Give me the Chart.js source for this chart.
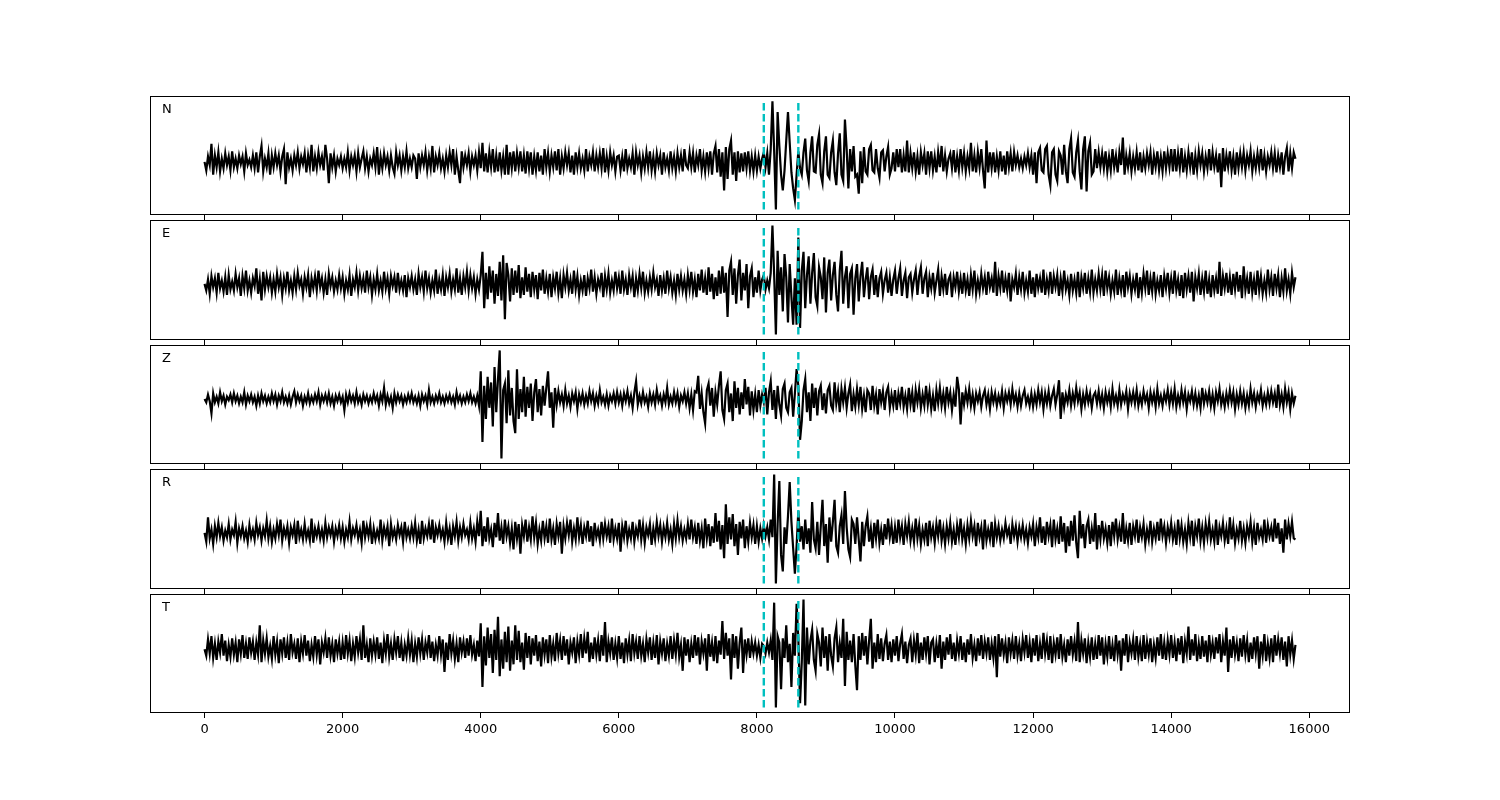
<!DOCTYPE html>
<html>
<head>
<meta charset="utf-8">
<script src="https://cdn.jsdelivr.net/npm/chart.js@4.4.1/dist/chart.umd.min.js"></script>
<style>
  body { margin: 0; background: #fff; }
  #fig { position: relative; width: 1500px; height: 800px; }
  #fig canvas { position: absolute; left: 0; }
</style>
</head>
<body>
<div id="fig"></div>
<script>
// samples every 25 time units, starting at 0
const sampleStep = 25;
const componentLabels = ['N', 'E', 'Z', 'R', 'T'];
const xTickValues = [0, 2000, 4000, 6000, 8000, 10000, 12000, 14000, 16000];
const pickTimes = [8100, 8600];

const traceN = [
  0, -8, 5, -3, 17, -12, 6, -5, 9, -9, 3, -6, 8, -3, 5, -8, 10, -5, 3, -6, 6, -2, 5, -9, 8, -3, 2, -5, 6, -6, 9, -10, 5, 15, -9, 3, -5, 8, -12, 6,
  -5, 8, -3, 6, -9, 5, 12, -21, 9, -5, 3, -8, 6, -3, 9, -6, 5, -2, 8, -10, 6, -5, 16, -9, 5, -6, 9, -3, 5, -8, 16, 3, -20, 8, -5, 6, -9, 3, -3, 5,
  -6, 3, -5, 9, -8, 5, -3, 6, -9, 8, -5, 3, 10, -6, 5, -9, 3, -3, 8, -5, 14, -12, 5, -6, 8, -3, 5, -8, 6, -5, -11, 9, -3, 6, -8, 5, -5, 10, -6, 3,
  -5, 6, 3, -16, 8, -5, 6, -3, 9, -8, 5, -6, 15, -10, 5, -3, 8, -6, 3, -9, 6, -5, 9, -3, 12, -12, 5, -8, -20, 10, -5, 6, -3, 8, -9, 5, -3, 6, -8, 9,
  -6, 18, -9, 8, -10, 9, -5, 12, -10, 6, -9, 9, -8, 5, -12, 16, -12, 9, -6, 10, -9, 8, -5, 10, -9, 6, -11, 10, -6, 9, -12, 5, -8, 9, -9, 6, -12, 12, -5, 8,
  -9, 6, -5, 10, -8, 12, -12, 5, -6, 9, -3, 8, -10, 6, -12, 9, -5, 8, -6, 3, -8, 12, -9, 5, -3, 9, -9, 6, -5, 8, -6, 13, -10, 5, -8, 9, -3, 6, -9, 5,
  6, -8, 5, -9, 12, -6, 3, -5, 8, -12, 9, -3, 6, -10, 5, -6, 9, -5, 10, -8, 5, -9, 8, -3, 6, -12, 9, -5, 3, -8, 10, -6, 5, -9, 8, -5, 6, -9, 12, -3,
  -6, 9, -5, 8, -10, 6, -3, 12, -8, 5, -9, 9, -6, 10, -12, 8, 15, -10, 12, -14, 9, -27, 14, -16, 12, 20, -12, 9, -18, 10, -10, 8, -9, 9, -6, 10, -8, 5, -9, 6,
  -8, 5, -6, 3, 9, -5, 8, -12, 12, 57, 10, -45, 47, 15, -12, -27, -8, 20, 47, 18, -10, -25, -36, -12, 10, -6, -12, 9, 22, -8, -18, 9, 24, -9, -10, 16, 26, -12, -20, 10,
  24, -12, -15, 9, 20, -10, -22, 8, 27, -12, -18, 40, 12, -25, 12, -9, 15, -14, -12, -30, 10, -20, 14, -9, -12, 12, 16, -8, -10, 12, -6, -15, 9, 11, -9, 5, 14, -12, -6, 9,
  -9, 12, -5, 12, -10, 6, -9, 20, -10, 8, -6, 9, -9, 5, -12, 9, -3, 8, -12, 10, -6, 10, -8, 5, -10, 9, -5, 15, -9, 6, -9, 3, 8, -6, 11, -10, 5, -8, 12, -5,
  8, -9, 5, -6, 18, -9, 6, -10, 9, -5, 12, -8, -25, 20, -10, 9, -6, 9, -10, 5, -8, 10, -9, 6, -12, 10, -5, 8, -9, 9, -3, 6, -5, 3, -6, 5, -3, 8, -5, 6,
  -12, 9, -20, 9, 13, -8, -10, 12, 15, -12, -22, 9, 12, -12, -18, 10, 6, -12, 16, -9, -20, 12, 22, -10, -14, 9, 20, -9, -26, 12, 24, -28, 10, 18, -12, -9, 12, -6, 9, -5,
  8, -6, 10, -9, 5, -8, 12, -5, 6, -10, 9, -3, 23, -12, 6, -5, 8, -9, 5, -6, 9, -8, 9, -10, 5, -6, 8, -3, 9, -12, 6, -5, 10, -8, 5, -9, 10, -6, 8, -5,
  12, -9, 12, -9, 8, -6, 13, -10, 5, -8, 9, -5, 9, -12, 6, -8, 10, -3, 8, -9, 5, -6, 12, -8, 9, -5, 6, -10, 8, -24, 13, -9, 6, -5, 10, -8, 5, -12, 9, -6,
  8, -5, 9, -8, 6, -3, 10, -9, 5, -6, 8, -5, 12, -8, 6, -9, 5, -3, 9, -6, 8, -10, 6, -5, 9, -12, 5, 13, -9, 8, -6, 9, 3
];

const traceE = [
  0, -6, 4, -9, 7, -3, 5, -8, 10, -4, 3, -7, 6, -10, 8, -5, 2, -6, 9, -3, 5, -11, 7, -4, 12, -6, 3, -8, 5, -2, 14, -9, 4, -15, 11, -5, 7, -3, 6, -8,
  4, -7, 9, -3, 6, -10, 5, -4, 11, -6, 3, -8, 7, -5, 10, -2, 4, -9, 6, -3, 8, -12, 5, -4, 7, -6, 12, -3, 5, -8, 4, -10, 9, -2, 6, -7, 3, -5, 8, -4,
  6, -9, 3, -5, 8, -11, 4, -3, 10, -6, 7, -4, 5, -8, 12, -3, 6, -10, 4, -5, 9, -6, 3, -7, 11, -4, 5, -9, 7, -2, 6, -8, 10, -5, 3, -6, 8, -12, 5, -3,
  7, -5, 4, -10, 9, -3, 6, -7, 12, -4, 5, -8, 3, -6, 13, -9, 4, -5, 8, -11, 6, -3, 9, -7, 4, -5, 14, -8, 5, -10, 7, -3, 11, -6, 8, -4, 6, -9, 4, -5,
  8, 29, -22, 10, -14, 16, -8, 12, -18, 9, -11, 20, -15, 26, -32, 19, 8, -16, 14, -10, 12, -8, 17, -13, 6, -10, 15, -7, 9, -12, 11, -5, 8, -14, 10, -6, 13, -9, 5, -7,
  9, -12, 6, -4, 11, -8, 5, -13, 8, -3, 10, -6, 4, -9, 12, -5, 7, -10, 3, -6, 8, -11, 5, -4, 13, -7, 6, -9, 4, -3, 10, -12, 7, -5, 9, -8, 3, -6, 11, -4,
  6, -9, 12, -5, 4, -10, 8, -3, 7, -12, 5, -6, 9, -4, 11, -8, 3, -7, 6, -5, 10, -3, 4, -11, 8, -6, 5, -9, 12, -4, 6, -8, 3, -10, 9, -5, 7, -6, 4, -9,
  8, -5, 11, -7, 4, -12, 9, -6, 13, -8, 5, -10, 15, -7, 9, -14, 6, -11, 12, -9, 16, -8, 10, -30, 12, 20, -10, 14, -18, 8, 22, -15, 10, -6, 18, -22, 7, 14, -12, 6,
  -8, 12, -6, 4, 8, -5, 3, -4, 10, 53, 8, -46, 30, -10, 15, -25, 27, 6, -35, 18, -12, -37, 5, -37, 42, -40, 12, 29, -22, 8, 25, -18, 10, 28, -12, -20, 15, 6, -14, 24,
  -26, 10, 22, -15, 8, 20, -10, -25, 12, 30, -18, 6, 16, -22, 9, 14, -28, 5, 18, -16, 7, 20, -12, 4, 15, -14, 6, 13, -10, 8, -12, 5, 11, -9, 3, 10, -8, 6, -11, 4,
  12, -9, 5, 14, -11, 3, 10, -13, 6, 9, -8, 4, 12, -10, 7, 15, -9, 5, 11, -12, 6, -4, 10, -8, 3, 13, -11, 7, -5, 9, -10, 4, 8, -12, 6, -3, 11, -7, 5, -9,
  10, -6, 4, -11, 8, -5, 12, -9, 3, -7, 9, -4, 6, -10, 11, -3, 5, -8, 20, -11, 7, -4, 12, -8, 5, -6, 10, -16, 4, -3, 9, -10, 6, -5, 11, -8, 3, -7, 12, -9,
  6, -12, 9, -4, 5, -8, 13, -10, 4, -6, 11, -9, 7, -3, 8, -11, 5, -7, 12, -5, 3, -10, 9, -6, 4, -8, 11, -12, 6, -4, 10, -9, 5, -7, 13, -8, 4, -6, 9, -5,
  8, -11, 12, -4, 6, -9, 3, -7, 13, -10, 5, -6, 8, -12, 11, -3, 7, -9, 4, -5, 10, -13, 6, -8, 9, -4, 12, -10, 5, -7, 11, -9, 3, -6, 8, -12, 7, -4, 10, -8,
  5, -9, 12, -6, 4, -11, 8, -13, 10, -5, 7, -8, 11, -16, 6, -4, 9, -10, 5, -7, 12, -9, 4, -12, 8, -6, 5, -9, 20, -11, 7, -4, 10, -8, 6, -10, 9, -5, 11, -7,
  8, -13, 16, -6, 5, -9, 11, -8, 4, -10, 12, -6, 7, -9, 3, -8, 13, -5, 6, -11, 9, -4, 8, -12, 5, -7, 14, -6, 4, -9, 10, -3, 6
];

const traceZ = [
  0, -3, 4, -2, -13, 5, -3, 2, -4, 6, -2, 3, -5, 2, -1, 4, -3, 5, -2, 3, -4, 2, -3, 6, -5, 3, -2, 4, -3, 2, -6, 3, -4, 5, -2, 3, -4, 2, -3, 5,
  -2, 4, -5, 3, -2, 6, -3, 2, -4, 3, -5, 2, 7, -3, 4, -2, 3, -6, 2, -3, 5, -4, 2, -3, 4, -2, 6, -5, 3, -2, 4, -3, 5, -4, 2, -6, 3, -2, 4, -3,
  2, -10, 4, -3, 5, -2, 3, -4, 6, -3, 2, -5, 4, -2, 3, -4, 2, -3, 5, -2, 3, -6, 4, -2, 10, -5, 3, -4, 2, -8, 5, -3, 4, -2, 3, -5, 2, -3, 4, -2,
  5, -3, 2, -4, 3, -6, 4, -2, 3, -5, 8, -3, 2, -4, 3, -2, 5, -3, 2, -4, 3, -2, 4, -3, 2, -5, 6, -2, 3, -4, 2, -3, 4, -2, 5, -3, 2, -4, 3, -6,
  25, -39, 12, -18, 20, -8, 15, -25, 29, -12, 18, 44, -54, 8, 14, -22, 26, -15, 10, -20, -31, 27, -18, 9, -12, 20, -16, 11, -8, 14, -20, 6, 18, -12, 9, -15, 12, -6, 10, 25,
  -8, 6, -26, 10, -5, 7, -3, 4, -6, 8, -4, 3, -7, 5, -2, 6, -9, 4, -3, 5, -5, 3, -4, 7, -2, 5, -6, 3, -4, 8, -3, 2, -5, 4, -6, 3, -2, 5, -4, 6,
  -3, 4, -6, 5, -2, 7, -4, 3, -8, 6, 16, -5, 3, -4, 6, -3, 2, -7, 5, -3, 4, -5, 8, -2, 3, -6, 4, -3, 10, -5, 2, -4, 6, -3, 5, -7, 3, -2, 6, -4,
  5, -8, 4, -10, 7, 6, 21, -9, 5, -12, -22, 8, 14, -6, 10, -16, 6, -5, 12, 25, -10, -18, 8, 14, -12, 5, -20, 16, -8, 10, -14, 6, -9, 18, -5, 11, -15, 7, -10, 4,
  -12, 8, -6, 4, -3, 10, -14, 6, 16, -10, 8, -18, 12, -5, -15, 9, 14, -8, -12, 6, 10, -16, 5, 27, 12, -37, -20, 8, 18, -12, 6, -20, 14, -8, 10, -15, 7, 12, -10, 5,
  -13, 8, 12, -6, -10, 15, -4, 7, -12, 9, -3, 10, -8, 5, 13, -11, 4, -7, 9, -5, 11, -9, 3, -12, 8, 5, -10, 12, -6, 4, -14, 9, -3, 7, -10, 6, 11, -8, 4, -6,
  8, -10, 5, -4, 11, -7, 3, -9, 10, -5, 6, -12, 8, -3, 9, -8, 4, -6, 12, -5, 7, -9, 3, -11, 8, -4, 10, -6, 5, -8, 11, -3, 6, -10, 4, -7, 20, 9, -23, 6,
  -5, 7, -3, 9, -6, 4, -8, 5, -2, 6, -7, 3, 8, -5, 4, -9, 6, -3, 5, -6, 3, -4, 7, -8, 5, -2, 6, -5, 9, -3, 4, -7, 5, -6, 3, 8, -4, 2, -6, 5,
  -7, 4, -5, 8, -3, 6, -9, 5, -4, 7, -6, 3, 9, -5, 4, 17, -18, 6, -7, 4, -3, 8, -6, 5, -4, 10, -2, 6, -9, 4, -5, 7, -3, 5, -8, 3, 6, -4, 7, -5,
  4, -8, 6, -3, 5, -7, 9, -4, 3, -6, 8, -5, 4, -2, 7, -9, 5, -3, 6, -4, 8, -6, 3, -5, 7, -2, 4, -8, 6, -3, 5, -7, 9, -4, 3, -6, 5, -2, 8, -5,
  6, -4, 9, -7, 3, -5, 8, -3, 6, -9, 4, -2, 7, -5, 5, -6, 3, -8, 10, -4, 5, -3, 7, -6, 4, -8, 6, -2, 9, -5, 3, -7, 5, -4, 8, -3, 6, -9, 4, -5,
  7, -4, 5, -8, 3, -6, 9, -3, 5, -7, 4, -2, 8, -6, 3, -5, 6, -4, 7, -3, 5, -8, 13, -5, 4, -7, 9, -3, 6, -9, 5, -4, 3
];

const traceR = [
  0, -8, 14, -5, 3, -10, 6, -4, 9, -3, 5, -7, 2, -4, 8, -6, 3, -2, 10, -9, 4, -3, 6, -5, 2, -8, 7, -4, 3, -6, 9, -2, 5, -7, 4, -3, 11, -5, 6, -8,
  3, -5, 8, -2, 12, -7, 4, -3, 6, -9, 5, -2, 7, -10, 11, -4, 3, -6, 8, -5, 2, -7, 13, -9, 4, -3, 6, -5, 3, -7, 9, -4, 5, -2, 6, -8, 4, -3, 7, -5,
  5, -8, 3, -4, 10, -6, 4, -2, 7, -5, 3, -9, 11, -4, 6, -3, 8, -10, 4, -6, 2, -5, 12, -7, 5, -3, 6, -12, 8, -4, 3, -6, 7, -2, 5, -8, 10, -4, 3, -5,
  6, -4, 9, -7, 3, -10, 11, -5, 4, -3, 8, -6, 12, -9, 5, -2, 7, -4, 3, -8, 9, -5, 4, -11, 6, -3, 10, -7, 5, -4, 8, -2, 3, -6, 9, -5, 4, -8, 10, -3,
  20, -12, 6, -8, 14, -5, 3, -13, 9, -4, 18, -7, 5, -10, 12, -3, 6, -9, 4, -15, 10, -5, 8, -19, 7, -3, 12, -8, 5, -6, 15, -4, 9, -10, 3, -7, 11, -5, 6, -9,
  13, -6, 4, -11, 8, -3, 10, -19, 6, -5, 9, -2, 12, -8, 4, -6, 14, -4, 7, -10, 5, -3, 11, -8, 6, -12, 9, -4, 3, -7, 10, -5, 8, -3, 6, -9, 13, -6, 4, -5,
  9, -17, 6, -4, 11, -7, 3, -5, 10, -8, 4, -3, 12, -6, 7, -9, 5, -2, 8, -11, 4, -6, 10, -3, 7, -8, 5, -4, 9, -6, 3, -10, 8, -5, 11, -4, 6, -7, 3, -5,
  8, -6, 12, -4, 5, -10, 9, -7, 4, -14, 13, -5, 8, -12, 6, -9, 18, -8, 11, -15, 7, -23, 26, -10, 14, -6, 17, -12, 8, -20, 10, -5, 12, -14, 6, -8, 9, -4, 7, -10,
  6, -8, 4, -5, 7, -3, 5, -6, 12, -4, 53, -46, 8, 47, -20, -35, 5, -10, 15, 46, 10, -14, -37, -12, 20, -8, 6, -15, 12, -10, 4, -18, 28, -6, -14, 10, -20, 6, 30, -12,
  8, -27, 14, -8, 10, 30, -12, -18, 6, 16, -10, 38, 5, -15, -22, 12, 8, -10, 14, -6, -26, 10, -12, 6, 15, -8, 4, -14, 9, -5, 12, -9, 3, -11, 8, -6, 13, -4, 7, -10,
  5, -9, 12, -4, 6, -11, 8, -3, 10, -7, 4, -8, 13, -5, 7, -10, 3, -6, 9, -12, 11, -4, 5, -9, 8, -3, 12, -7, 4, -10, 6, -5, 9, -8, 3, -11, 7, -4, 13, -6,
  4, -10, 7, -5, 11, -3, 6, -12, 9, -4, 5, -15, 12, -7, 3, -6, 10, -13, 8, -4, 6, -7, 3, -5, 9, -2, 4, -10, 8, -3, 6, -8, 5, -4, 7, -6, 3, -9, 5, -3,
  8, -12, 5, -4, 14, -9, 6, -11, 10, -3, 7, -13, 12, -6, 4, -10, 15, -8, 9, -18, 6, -12, 11, -7, 16, -9, -23, 20, -5, 8, -14, 6, 12, -10, 4, -8, 18, -15, 7, -6,
  11, -5, 4, -9, 7, -12, 10, -3, 13, -6, 5, -8, 18, -10, 4, -7, 9, -11, 6, -3, 12, -9, 5, -4, 8, -10, 3, -6, 11, -8, 4, -5, 10, -7, 13, -3, 6, -9, 5, -4,
  9, -6, 4, -11, 12, -5, 7, -8, 3, -10, 9, -4, 11, -12, 6, -3, 13, -7, 5, -9, 8, -4, 10, -6, 3, -8, 12, -11, 5, -3, 9, -7, 4, -10, 14, -6, 7, -9, 3, -5,
  11, -7, 4, -9, 6, -3, 10, -8, 5, -11, 9, -4, 3, -6, 12, -9, 7, -3, 5, -8, 13, -5, 9, -10, 4, -18, 12, -6, 8, -3, 10, -5, -6
];

const traceT = [
  0, -6, 9, -4, 12, -8, 5, -10, 7, -3, 14, -6, 8, -11, 4, -7, 10, -5, 6, -12, 9, -4, 13, -8, 5, -9, 11, -3, 7, -10, 6, -5, 22, -12, 8, -4, 10, -7, 3, -9,
  12, -5, 7, -13, 9, -4, 11, -8, 6, -10, 14, -3, 5, -9, 10, -12, 7, -4, 13, -6, 8, -11, 4, -7, 12, -5, 9, -14, 6, -3, 10, -8, 11, -6, 5, -12, 9, -4, 7, -10,
  6, -9, 13, -4, 8, -11, 5, -7, 12, -3, 9, -10, 22, -8, 4, -12, 10, -6, 7, -5, 11, -9, 6, -13, 8, -4, 14, -7, 5, -10, 9, -3, 12, -8, 6, -11, 4, -6, 10, -5,
  8, -12, 5, -7, 11, -4, 9, -10, 6, -3, 13, -8, 7, -11, 4, -6, 12, -5, 9, -21, 6, -10, 14, -4, 8, -9, 5, -12, 11, -3, 7, -8, 10, -6, 13, -5, 4, -11, 8, -7,
  24, -35, 12, -15, 20, -8, 14, -22, 18, -10, 30, -25, 9, -18, 16, -12, 21, -20, 8, -14, 22, -10, 17, -12, 6, -19, 15, -8, 12, -14, 10, -6, 13, -11, 7, -16, 11, -5, 9, -13,
  13, -7, 5, -11, 15, -4, 8, -10, 12, -6, 9, -14, 6, -3, 11, -13, 7, -5, 14, -8, 10, -4, 16, -12, 6, -9, 11, -5, 8, -11, 13, -6, 25, -12, 7, -4, 11, -10, 5, -8,
  12, -9, 6, -13, 10, -5, 8, -11, 14, -4, 7, -9, 12, -6, 5, -12, 9, -3, 11, -10, 6, -8, 13, -14, 7, -4, 10, -11, 5, -6, 12, -9, 8, -5, 15, -7, 4, -20, 11, -6,
  9, -12, 5, -8, 13, -6, 11, -14, 7, -4, 10, -20, 14, -7, 6, -11, 12, -13, 8, -5, 26, -9, 15, -6, 10, -28, 14, -8, 12, -18, 6, 20, -22, 9, -5, 10, -8, 7, -4, 6,
  -6, 4, -8, 5, 3, -4, 6, -3, 8, -10, 43, -54, 12, 6, -37, 10, -8, 22, -12, 5, -35, 15, -6, 42, 10, -50, -12, 46, -52, 20, -14, 8, 18, -10, -20, 14, 6, -16, 20, -8,
  12, -20, 14, -6, -16, 10, 20, -12, 5, -8, 28, -34, 16, -10, 8, -12, 14, -15, -38, 12, -10, 15, -6, 12, -14, 8, 28, -18, 6, -12, 14, -9, 10, -11, 5, 13, -10, 7, -12, 9,
  -6, 12, -11, 5, 14, -9, 7, -13, 4, 10, -12, 8, -5, 15, -13, 6, -10, 11, -4, 12, -14, 6, 9, -12, 5, -8, 13, -18, 7, -10, 11, -5, 14, -9, 6, -11, 8, -4, 12, -10,
  6, -12, 9, -5, 14, -8, 4, -11, 10, -6, 13, -9, 7, -4, 11, -10, 5, -8, 12, -26, 14, -7, 10, -5, 6, -13, 11, -4, 8, -9, 12, -6, 5, -11, 9, -3, 13, -8, 6, -12,
  10, -6, 13, -11, 5, -9, 15, -4, 8, -10, 12, -13, 6, -5, 11, -9, 14, -7, 4, -12, 9, -6, 12, -5, 7, -11, 25, -12, 8, -4, 10, -13, 6, -7, 11, -10, 5, -9, 13, -6,
  11, -14, 5, -7, 12, -9, 4, -11, 13, -5, 8, -20, 10, -6, 14, -12, 6, -4, 9, -10, 12, -7, 5, -11, 13, -9, 7, -5, 10, -12, 4, -8, 11, -6, 14, -9, 6, -10, 8, -5,
  13, -8, 6, -11, 10, -5, 12, -13, 7, -4, 21, -10, 9, -6, 14, -11, 5, -9, 12, -7, 8, -12, 13, -5, 6, -9, 11, -4, 14, -12, 7, -6, 20, -21, 9, -8, 12, -5, 6, -11,
  10, -7, 13, -5, 8, -12, 6, -9, 11, -4, 12, -18, 7, -6, 14, -11, 5, -8, 10, -12, 13, -6, 9, -4, 11, -10, 7, -16, 12, -5, 8, -9, 4
];

const traces = [traceN, traceE, traceZ, traceR, traceT];

// panel boxes in page pixels
const panelTops = [96, 220, 345, 469, 594];
const panelHeights = [119, 120, 119, 120, 119];
const topPad = 6;

const framePlugin = {
  id: 'frame',
  afterDraw(chart, args, opts) {
    const a = chart.chartArea;
    const c = chart.ctx;
    c.save();
    c.strokeStyle = '#000';
    c.lineWidth = 1;
    c.strokeRect(a.left + 0.5, a.top + 0.5, a.right - a.left - 1, a.bottom - a.top - 1);
    c.fillStyle = '#000';
    c.font = '13px "DejaVu Sans"';
    c.textBaseline = 'alphabetic';
    c.fillText(opts.text, a.left + 12, a.top + 17);
    c.restore();
  }
};

const fig = document.getElementById('fig');

traces.forEach(function (trace, k) {
  const isBottom = k === traces.length - 1;
  const axisH = isBottom ? 32 : 6;
  const canvas = document.createElement('canvas');
  canvas.width = 1500;
  canvas.height = topPad + panelHeights[k] + axisH;
  canvas.style.top = (panelTops[k] - topPad) + 'px';
  fig.appendChild(canvas);

  const yMin = Math.min(...trace);
  const yMax = Math.max(...trace);
  const span = yMax - yMin;

  const points = trace.map((v, i) => ({ x: i * sampleStep, y: v }));
  const lastT = (trace.length - 1) * sampleStep;
  const margin = lastT * 0.05;

  const pickSets = pickTimes.map(t => ({
    data: [{ x: t, y: yMin }, { x: t, y: yMax }],
    borderColor: '#00bfbf',
    borderWidth: 2.4,
    borderDash: [7.5, 3.5],
    pointRadius: 0,
    order: 1
  }));

  new Chart(canvas, {
    type: 'line',
    data: {
      datasets: [{
        data: points,
        borderColor: '#000',
        borderWidth: 2.2,
        pointRadius: 0,
        tension: 0,
        order: 2
      }].concat(pickSets)
    },
    options: {
      responsive: false,
      animation: false,
      events: [],
      layout: { padding: { left: 150, right: 150, top: topPad, bottom: 0 } },
      plugins: {
        legend: { display: false },
        tooltip: { enabled: false },
        frame: { text: componentLabels[k] }
      },
      scales: {
        x: {
          type: 'linear',
          min: -margin,
          max: lastT + margin,
          afterBuildTicks: function (axis) {
            axis.ticks = xTickValues.map(v => ({ value: v }));
          },
          afterFit: function (axis) { axis.height = axisH; },
          border: { display: false },
          grid: {
            display: true,
            drawOnChartArea: false,
            drawTicks: true,
            tickLength: 5,
            color: '#000',
            lineWidth: 1
          },
          ticks: {
            display: isBottom,
            autoSkip: false,
            maxRotation: 0,
            padding: 4,
            color: '#000',
            font: { family: 'DejaVu Sans', size: 13 },
            callback: v => String(v)
          }
        },
        y: {
          display: false,
          min: yMin - span * 0.05,
          max: yMax + span * 0.05
        }
      }
    },
    plugins: [framePlugin]
  });
});
</script>
</body>
</html>
